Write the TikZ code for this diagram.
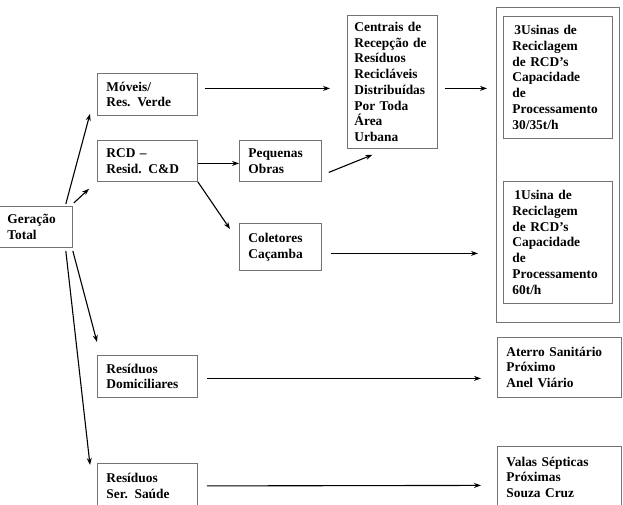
\documentclass[tikz,border=0pt]{standalone}
\usepackage{fontspec}
\setmainfont{Liberation Serif}
\usetikzlibrary{arrows.meta,calc}
\tikzset{
  box/.style={draw=black!55, line width=0.8pt, rectangle, anchor=north west, inner xsep=9pt, inner ysep=3pt,
    align=left, font=\fontsize{13.4}{15.7}\selectfont\bfseries},
  conn/.style={draw=black, line width=1.1pt, -{Stealth[length=7pt,width=5pt]}}
}
\newcommand{\bx}[6]{\node[box, text width=#4pt-18pt, minimum height=#5pt] (#1) at (#2,#3) {#6};}
\begin{document}
\begin{tikzpicture}[x=1pt,y=-1pt]
\useasboundingbox (0,0) rectangle (623,504);
\clip (0,0) rectangle (623,504);
\fill[white] (0,0) rectangle (623,504);
\bx{ger}{-2}{206}{74}{41}{Geração\\Total}
\bx{mov}{97}{73}{100}{42}{Móveis/\\Res. Verde}
\bx{rcd}{97}{140}{100}{41}{RCD –\\Resid. C\&D}
\bx{peq}{239}{140}{82}{41}{Pequenas\\Obras}
\bx{col}{239}{223}{82}{47}{Coletores\\Caçamba}
\node[box, inner xsep=7pt, text width=76pt, minimum height=133pt] (cen) at (347,15) {Centrais de\\Recepção de\\Resíduos\\Recicláveis\\Distribuídas\\Por Toda\\Área\\Urbana};
\node[draw=black!55, line width=0.8pt, rectangle, anchor=north west, minimum width=123pt, minimum height=315pt, inner sep=0pt] (outer) at (496,7) {};
\bx{us3}{503}{16}{109}{122}{\hspace{2pt}3Usinas de\\Reciclagem\\de RCD's\\Capacidade\\de\\Processamento\\30/35t/h}
\bx{us1}{503}{181}{109}{122}{\hspace{2pt}1Usina de\\Reciclagem\\de RCD's\\Capacidade\\de\\Processamento\\60t/h}
\bx{dom}{97}{355}{100}{42}{Resíduos\\Domiciliares}
\bx{ate}{497}{337}{124}{60}{Aterro Sanitário\\Próximo\\Anel Viário}
\bx{sau}{97}{463}{100}{45}{Resíduos\\Ser. Saúde}
\bx{val}{497}{446}{124}{62}{Valas Sépticas\\Próximas\\Souza Cruz}
% connectors
\draw[conn] ($(ger.north east)+(-7,-2)$) -- ($(mov.south west)+(-7,-2)$);
\draw[conn] ($(ger.north east)+(1,-3)$) -- ($(rcd.south west)+(-8,7)$);
\draw[conn] ($(ger.south east)+(0,3)$) -- ($(dom.north west)+(0,-13)$);
\draw[conn] ($(ger.south east)+(-7,3)$) -- ($(sau.north west)+(-7,2)$);
\draw[conn] ($(mov.east)+(7,-6)$) -- ($(cen.west)+(-17,6.5)$);
\draw[conn] ($(cen.east)+(7,6.5)$) -- ($(us3.west)+(-16,11)$);
\draw[conn] ($(rcd.east)+(0,2.5)$) -- ($(peq.west)+(0,2.5)$);
\draw[conn] (rcd.south east) -- ($(col.north west)+(-9,6)$);
\draw[conn] ($(peq.east)+(7,11.5)$) -- ($(cen.south)+(-20,6)$);
\draw[conn] ($(col.east)+(9,6.5)$) -- ($(us1.west)+(-25,11)$);
\draw[conn] ($(dom.east)+(9,2)$) -- ($(ate.west)+(-16,11)$);
\draw[conn] ($(sau.east)+(9,0)$) -- ($(val.west)+(-16,8)$);
\end{tikzpicture}
\end{document}
